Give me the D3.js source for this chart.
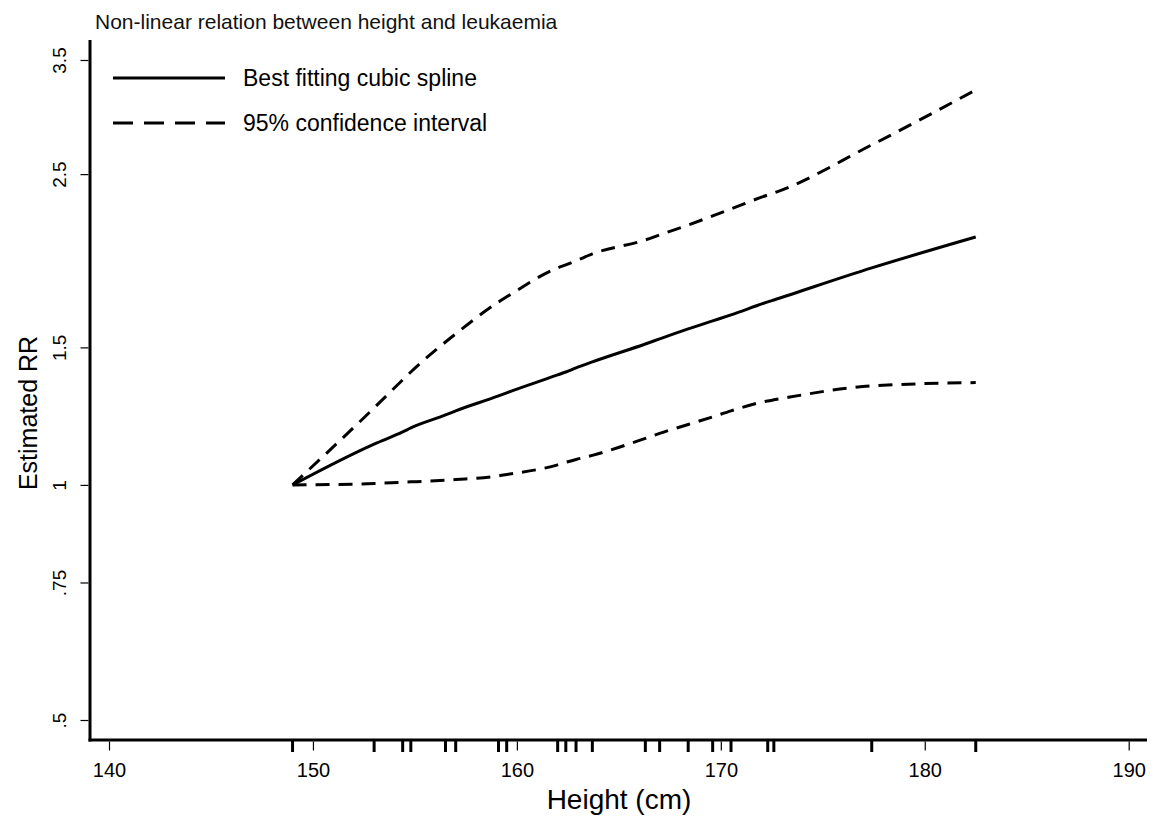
<!DOCTYPE html>
<html>
<head>
<meta charset="utf-8">
<script src="https://cdn.jsdelivr.net/npm/d3@7/dist/d3.min.js"></script>
<style>
  html, body { margin: 0; padding: 0; background: #fff; }
  svg { display: block; font-family: "Liberation Sans", Arial, sans-serif; }
</style>
</head>
<body>
<svg id="chart" width="1158" height="821"></svg>
<script>
// Heights (cm) at which the spline was evaluated; also shown as rug marks
const heights = [149, 153, 154.4, 154.8, 156.5, 157, 159.1, 159.5, 162, 162.4, 162.9,
                 163.7, 166.3, 167, 168.4, 169.6, 170.5, 172.3, 172.6, 177.4, 182.5];
// Estimated relative risk (reference = 149 cm)
const rrFit   = [1, 1.128, 1.169, 1.183, 1.229, 1.244, 1.300, 1.312, 1.383, 1.395, 1.412,
                 1.437, 1.515, 1.538, 1.584, 1.622, 1.651, 1.715, 1.725, 1.896, 2.077];
const rrUpper = [1, 1.255, 1.363, 1.395, 1.524, 1.561, 1.715, 1.741, 1.896, 1.913, 1.936,
                 1.976, 2.059, 2.090, 2.152, 2.210, 2.256, 2.351, 2.365, 2.725, 3.204];
const rrLower = [1, 1.004, 1.008, 1.009, 1.014, 1.016, 1.027, 1.031, 1.061, 1.069, 1.078,
                 1.091, 1.147, 1.164, 1.195, 1.222, 1.244, 1.281, 1.285, 1.339, 1.352];
const xTicks = [140, 150, 160, 170, 180, 190];
const yTicks = [0.5, 0.75, 1, 1.5, 2.5, 3.5];
const yTickLabels = [".5", ".75", "1", "1.5", "2.5", "3.5"];

const svg = d3.select("#chart");
const x = d3.scaleLinear().domain([140, 190]).range([109, 1128.7]);
const y = d3.scaleLog().domain([0.5, 3.5]).range([720, 60]);

const axisY = 740, axisX = 90;

// Title
svg.append("text").attr("x", 95).attr("y", 29)
  .attr("font-size", 21).attr("fill", "#111")
  .text("Non-linear relation between height and leukaemia");

// Axis lines
svg.append("line").attr("x1", axisX).attr("x2", axisX).attr("y1", 40).attr("y2", axisY + 1.5)
  .attr("stroke", "#000").attr("stroke-width", 3);
svg.append("line").attr("x1", axisX - 1.5).attr("x2", 1147).attr("y1", axisY).attr("y2", axisY)
  .attr("stroke", "#000").attr("stroke-width", 3);

// Y axis (log scale)
const gy = svg.append("g").attr("transform", `translate(${axisX - 1.5},0)`)
  .call(d3.axisLeft(y).tickValues(yTicks).tickSize(8).tickPadding(14)
    .tickFormat((d, i) => yTickLabels[i]));
gy.select(".domain").remove();
gy.selectAll(".tick line").attr("stroke", "#000").attr("stroke-width", 1.2);
gy.selectAll(".tick text")
  .attr("font-size", 19).attr("fill", "#000")
  .attr("font-family", "'Liberation Sans', Arial, sans-serif")
  .attr("text-anchor", "middle").attr("dy", null).attr("x", null)
  .attr("transform", "translate(-28,0) rotate(-90)")
  .attr("dominant-baseline", "middle");

// X axis
const gx = svg.append("g").attr("transform", `translate(0,${axisY + 1.5})`)
  .call(d3.axisBottom(x).tickValues(xTicks).tickSize(9).tickPadding(12).tickFormat(d3.format("d")));
gx.select(".domain").remove();
gx.selectAll(".tick line").attr("stroke", "#000").attr("stroke-width", 1.2);
gx.selectAll(".tick text").attr("font-size", 20).attr("fill", "#000")
  .attr("font-family", "'Liberation Sans', Arial, sans-serif");

// Rug marks at observed heights
svg.append("g").selectAll("line").data(heights).join("line")
  .attr("x1", d => x(d)).attr("x2", d => x(d))
  .attr("y1", axisY).attr("y2", axisY + 12)
  .attr("stroke", "#000").attr("stroke-width", 3);

// Axis titles
svg.append("text").attr("x", 619).attr("y", 809).attr("text-anchor", "middle")
  .attr("font-size", 28).attr("fill", "#000").text("Height (cm)");
svg.append("text").attr("transform", `translate(37,413) rotate(-90)`).attr("text-anchor", "middle")
  .attr("font-size", 25).attr("fill", "#000").text("Estimated RR");

// Curves
const line = d3.line().x(d => x(d[0])).y(d => y(d[1])).curve(d3.curveMonotoneX);
const series = [
  { values: rrUpper, dash: "14,9" },
  { values: rrLower, dash: "14,9" },
  { values: rrFit,   dash: null }
];
series.forEach(s => {
  svg.append("path")
    .datum(heights.map((h, i) => [h, s.values[i]]))
    .attr("d", line)
    .attr("fill", "none").attr("stroke", "#000").attr("stroke-width", 3)
    .attr("stroke-dasharray", s.dash);
});

// Legend
const legend = [
  { label: "Best fitting cubic spline", dash: null, y: 78 },
  { label: "95% confidence interval", dash: "20,11", y: 123 }
];
legend.forEach(l => {
  svg.append("line").attr("x1", 113).attr("x2", 225).attr("y1", l.y).attr("y2", l.y)
    .attr("stroke", "#000").attr("stroke-width", 3).attr("stroke-dasharray", l.dash);
  svg.append("text").attr("x", 243).attr("y", l.y + 8).attr("font-size", 23).attr("fill", "#000")
    .text(l.label);
});
</script>
</body>
</html>
